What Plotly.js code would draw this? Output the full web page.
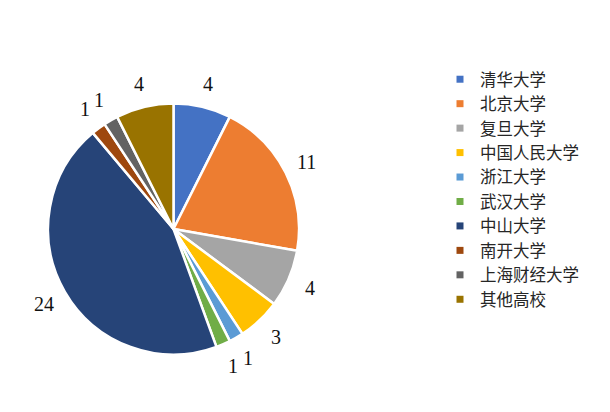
<!DOCTYPE html>
<html>
<head>
<meta charset="utf-8">
<script src="https://cdn.plot.ly/plotly-3.0.1.min.js"></script>
<style>
  html, body { margin: 0; padding: 0; background: #ffffff; }
  #chart { width: 610px; height: 412px; }
</style>
</head>
<body>
<div id="chart"></div>
<script>
// Universities and number of people from each
let schools = ["清华大学", "北京大学", "复旦大学", "中国人民大学", "浙江大学",
  "武汉大学", "中山大学", "南开大学", "上海财经大学", "其他高校"];
let counts = [4, 11, 4, 3, 1, 1, 24, 1, 1, 4];
let colors = ["#4472C4", "#ED7D31", "#A5A5A5", "#FFC000", "#5B9BD5",
  "#70AD47", "#264478", "#9E480E", "#636363", "#997300"];

let W = 610, H = 412;

// Pie box in pixels
let pie_left = 48, pie_right = 299, pie_top = 103, pie_bottom = 355;
let cx = (pie_left + pie_right) / 2;
let cy = (pie_top + pie_bottom) / 2;
let label_r = 149;

let pie = {
  type: "pie",
  values: counts,
  labels: schools,
  sort: false,
  direction: "clockwise",
  rotation: 0,
  marker: { colors: colors, line: { color: "#ffffff", width: 2.5 } },
  textinfo: "none",
  hoverinfo: "label+value",
  showlegend: false,
  domain: { x: [pie_left / W, pie_right / W], y: [1 - pie_bottom / H, 1 - pie_top / H] }
};

// Value labels sit outside each slice at its mid angle, no leader lines
let total = counts.reduce((a, b) => a + b, 0);
let cum = 0;
let annotations = counts.map((v, i) => {
  let mid = (cum + v / 2) / total * 2 * Math.PI;
  cum += v;
  let px = cx + label_r * Math.sin(mid);
  let py = cy - label_r * Math.cos(mid);
  return {
    xref: "paper",
    yref: "paper",
    x: px / W,
    y: 1 - py / H,
    xanchor: "center",
    yanchor: "middle",
    text: String(v),
    showarrow: false,
    font: { family: "Liberation Serif, Times New Roman, serif", size: 20, color: "#111111" }
  };
});

// Legend entries as empty square-marker traces so the swatch stays small
let legend_traces = schools.map((name, i) => {
  return {
    type: "scatter",
    mode: "markers",
    x: [null],
    y: [null],
    name: name,
    marker: { symbol: "square", size: 7, color: colors[i] },
    hoverinfo: "skip"
  };
});

let layout = {
  width: W,
  height: H,
  margin: { l: 0, r: 0, t: 0, b: 0 },
  paper_bgcolor: "#ffffff",
  plot_bgcolor: "#ffffff",
  xaxis: { visible: false, domain: [0.99, 1] },
  yaxis: { visible: false, domain: [0.99, 1] },
  annotations: annotations,
  showlegend: true,
  legend: {
    x: 440 / W,
    y: 1 - 62 / H,
    xanchor: "left",
    yanchor: "top",
    bgcolor: "rgba(0,0,0,0)",
    font: { family: "Noto Sans CJK SC, sans-serif", size: 16.5, color: "#262626" },
    itemclick: false,
    itemdoubleclick: false
  }
};

let config = { displayModeBar: false, staticPlot: true };

Plotly.newPlot("chart", [pie].concat(legend_traces), layout, config);
</script>
</body>
</html>
